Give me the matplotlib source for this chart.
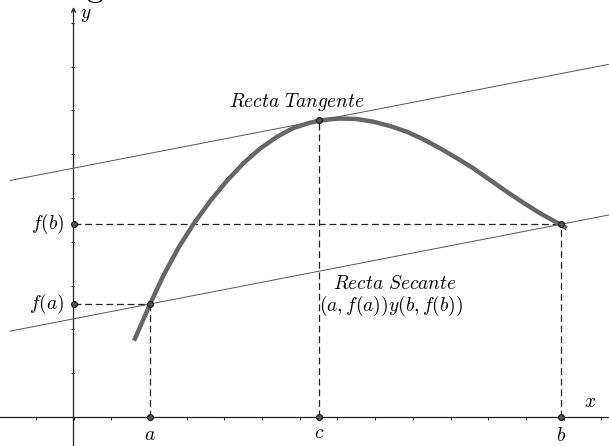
import matplotlib
matplotlib.use("Agg")
import matplotlib.pyplot as plt
import numpy as np

plt.rcParams['mathtext.fontset'] = 'cm'
plt.rcParams['font.family'] = ['DejaVu Serif']

# Key values (data units)
a_val, c_val, b_val = 2.03, 6.52, 12.93
fa, fc, fb = 2.58, 6.77, 4.40

# Curve
curve_x = [1.605, 2.029, 2.382, 2.780, 3.178, 3.621, 4.064, 4.504, 4.947,
           5.390, 5.830, 6.273, 6.520, 6.804, 7.069, 7.512, 7.952, 8.395,
           8.838, 9.279, 9.721, 10.164, 10.605, 11.048, 11.491, 11.931,
           12.374, 12.905, 13.082]
curve_y = [1.742, 2.573, 3.226, 3.858, 4.400, 4.925, 5.388, 5.792, 6.126,
           6.393, 6.598, 6.719, 6.765, 6.797, 6.815, 6.804, 6.742, 6.644,
           6.514, 6.340, 6.135, 5.913, 5.678, 5.411, 5.144, 4.893, 4.651,
           4.400, 4.308]

x_ticks = list(range(-1, 15))
y_ticks = list(range(1, 10))
line_x_range = [-1.68, 14.3]

fig = plt.figure(figsize=(6.09, 4.46), dpi=100)
ax = fig.add_axes([0, 0, 1, 1])
xmin, xmax = -73.5 / 37.7, (609 - 73.5) / 37.7
ymin, ymax = (417 - 446) / 43.8, 417 / 43.8
ax.set_xlim(xmin, xmax)
ax.set_ylim(ymin, ymax)
ax.axis('off')

axis_col = '#222222'
# axes
ax.plot([xmin, xmax], [0, 0], color=axis_col, lw=0.9, zorder=2)
ax.annotate('', xy=(0, (417 - 7) / 43.8), xytext=(0, ymin),
            arrowprops=dict(arrowstyle='->', color=axis_col, lw=0.9,
                            shrinkA=0, shrinkB=0, mutation_scale=7))
ax.plot(x_ticks, [0] * len(x_ticks), linestyle='none', marker=3,
        markersize=2.5, color=axis_col, markeredgewidth=0.8)
ax.plot([0] * len(y_ticks), y_ticks, linestyle='none', marker=0,
        markersize=2.5, color=axis_col, markeredgewidth=0.8)

# secant and tangent
slope = (fb - fa) / (b_val - a_val)
sx = np.array(line_x_range)
ax.plot(sx, fa + slope * (sx - a_val), color='#555555', lw=0.7, zorder=3)
ax.plot(sx, fc + slope * (sx - c_val), color='#555555', lw=0.7, zorder=3)

# dashed guides
dkw = dict(color='#222222', lw=0.9, linestyle=(0, (5.5, 3)), zorder=2)
ax.plot([0, a_val], [fa, fa], **dkw)
ax.plot([a_val, a_val], [0, fa], **dkw)
ax.plot([0, b_val], [fb, fb], **dkw)
ax.plot([b_val, b_val], [0, fb], **dkw)
ax.plot([c_val, c_val], [0, fc], **dkw)

# curve
ax.plot(curve_x, curve_y, color='#666666', lw=3.2, solid_capstyle='butt',
        solid_joinstyle='round', zorder=4)

# points
px = [0, 0, a_val, b_val, c_val, a_val, c_val, b_val]
py = [fa, fb, fa, fb, fc, 0, 0, 0]
ax.plot(px, py, linestyle='none', marker='o', markersize=4.2,
        markerfacecolor='#555555', markeredgecolor='#111111',
        markeredgewidth=0.8, zorder=6)

fs = 14
ax.text(-0.25, fb, r'$f(b)$', ha='right', va='center', fontsize=fs)
ax.text(-0.25, fa, r'$f(a)$', ha='right', va='center', fontsize=fs)
ax.text(a_val, -0.42, r'$a$', ha='center', va='center', fontsize=fs)
ax.text(c_val, -0.36, r'$c$', ha='center', va='center', fontsize=fs)
ax.text(b_val, -0.43, r'$b$', ha='center', va='center', fontsize=fs)
ax.text((590 - 73.5) / 37.7, (417 - 402) / 43.8, r'$x$', ha='center',
        va='center', fontsize=fs)
ax.text((86 - 73.5) / 37.7, (417 - 15) / 43.8, r'$y$', ha='center',
        va='center', fontsize=fs)
ax.text((95 - 73.5) / 37.7, (417 + 3) / 43.8, r'$\mathrm{g}$', ha='center',
        va='baseline', fontsize=24)

ax.text((297 - 73.5) / 37.7, (417 - 102) / 43.8, r'$\mathit{Recta\ Tangente}$',
        ha='center', va='center', fontsize=fs)
ax.text((395 - 73.5) / 37.7, (417 - 284) / 43.8, r'$\mathit{Recta\ Secante}$',
        ha='center', va='center', fontsize=fs)
ax.text((391 - 73.5) / 37.7, (417 - 306) / 43.8, r'$(a,f(a))y(b,f(b))$',
        ha='center', va='center', fontsize=fs)

fig.savefig('out.png', dpi=100)
